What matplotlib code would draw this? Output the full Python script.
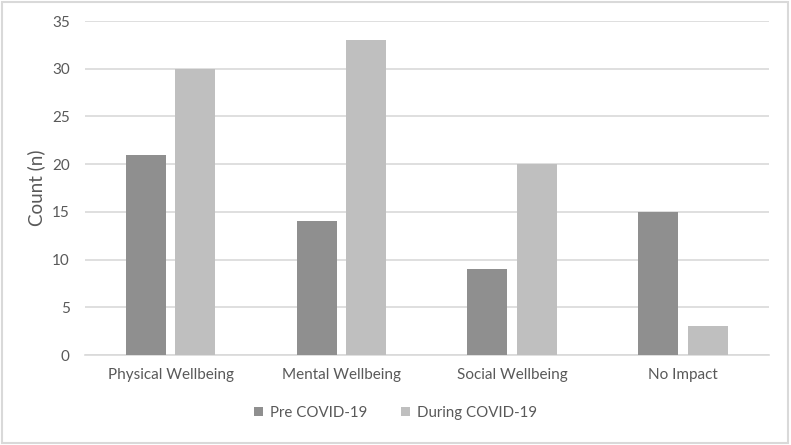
import numpy as np
import matplotlib
matplotlib.use("Agg")
import matplotlib.pyplot as plt
from matplotlib.patches import Rectangle

categories = ["Physical Wellbeing", "Mental Wellbeing", "Social Wellbeing", "No Impact"]
pre_covid = [21, 14, 9, 15]
during_covid = [30, 33, 20, 3]
series_names = ["Pre COVID-19", "During COVID-19"]
yticks = [0, 5, 10, 15, 20, 25, 30, 35]

plt.rcParams['font.family'] = ['Lato', 'DejaVu Sans']
text_col = "#595959"
grid_col = "#d9d9d9"

fig = plt.figure(figsize=(7.91, 4.45), dpi=100)
ax = fig.add_axes([0.1075, 0.2022, 0.8645, 0.7506])

x = np.arange(len(categories))
w = 0.234
off = 0.146
ax.bar(x - off, pre_covid, w, color="#8f8f8f", label=series_names[0], zorder=3)
ax.bar(x + off, during_covid, w, color="#bfbfbf", label=series_names[1], zorder=3)

ax.set_xlim(-0.5, len(categories) - 0.5)
ax.set_ylim(0, 35)
ax.set_yticks(yticks)
ax.yaxis.grid(True, color=grid_col, linewidth=1.2, zorder=0)
ax.set_axisbelow(True)
for s in ["top", "right", "left"]:
    ax.spines[s].set_visible(False)
ax.spines["bottom"].set_color(grid_col)
ax.spines["bottom"].set_linewidth(1.2)
ax.tick_params(axis="both", length=0, labelsize=11, colors=text_col)
ax.tick_params(axis="y", pad=11)
ax.tick_params(axis="x", pad=9)
ax.set_xticks(x)
ax.set_xticklabels(categories)
ax.set_ylabel("Count (n)", fontsize=13.5, color=text_col, labelpad=5)

leg = fig.legend(loc="center", bbox_to_anchor=(0.5, 0.072), ncol=2, frameon=False,
                 fontsize=10.8, handlelength=0.6, handleheight=0.6,
                 handletextpad=0.5, columnspacing=2.2)
for t in leg.get_texts():
    t.set_color(text_col)

fig.patches.append(Rectangle((0.002, 0.004), 0.994, 0.992, transform=fig.transFigure,
                             fill=False, edgecolor=grid_col, linewidth=1.5))

fig.savefig("out.png", dpi=100)
